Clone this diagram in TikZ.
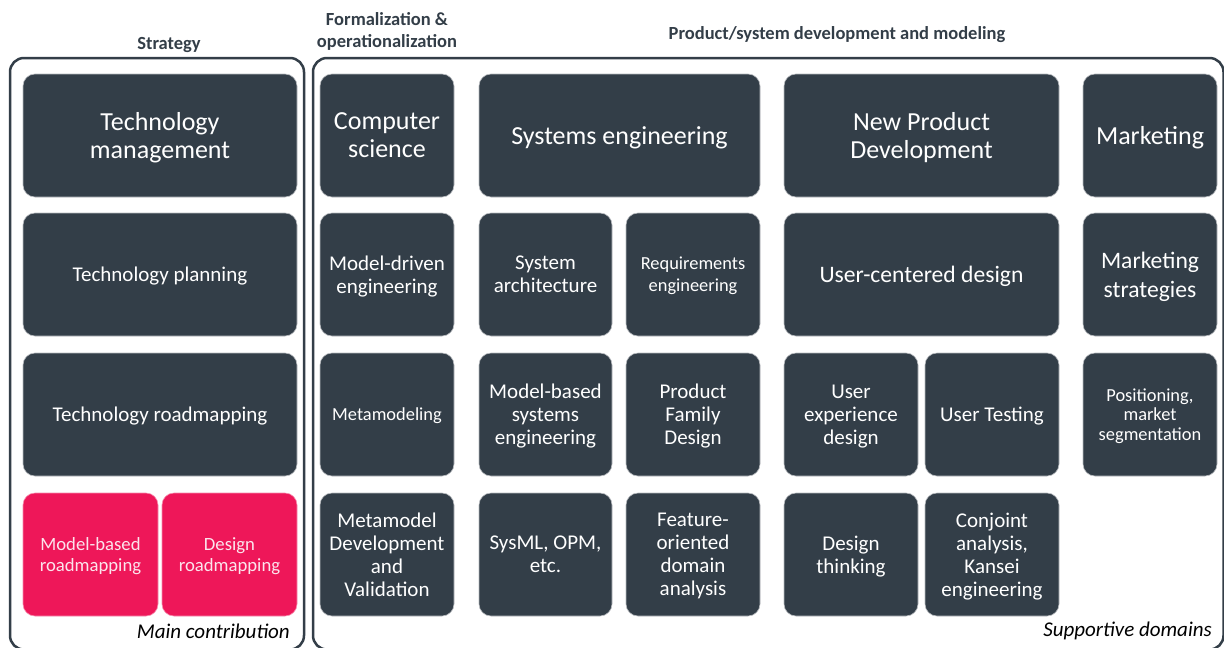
\documentclass[tikz,border=0pt]{standalone}
\usepackage{fontspec}
\setmainfont{Carlito}
\definecolor{slate}{HTML}{333E48}
\definecolor{rose}{HTML}{EE1759}
\definecolor{rosetext}{HTML}{FCE4EC}
\newcommand{\fbig}{\fontsize{26}{28}\selectfont}
\newcommand{\fucd}{\fontsize{23.6}{29}\selectfont}
\newcommand{\fmed}{\fontsize{21}{23}\selectfont}
\newcommand{\fsml}{\fontsize{18.4}{19.5}\selectfont}
\newcommand{\fsmlb}{\fontsize{18.4}{22}\selectfont}
\newcommand{\fpink}{\fontsize{18.7}{20.5}\selectfont}
% box macro: style, name, x1, y1, x2, y2, font, text
\newcommand{\bx}[8]{\node[#1, minimum width={(#5-#3)*1pt}, minimum height={(#6-#4)*1pt}, font=#7] (#2) at ({(#3+#5)/2},{(#4+#6)/2}) {#8};}
\begin{document}
\begin{tikzpicture}[x=1pt,y=-1pt,
  dbox/.style={fill=slate, draw=slate!35, line width=0.6pt, rounded corners=12pt, text=white, align=center, inner sep=0pt, text depth=0pt, execute at begin node={\vspace*{2.5pt}}},
  pbox/.style={dbox, fill=rose, draw=rose!50, text=rosetext},
  frame/.style={draw=slate, line width=2.5pt, rounded corners=14pt},
  head/.style={text=slate, font=\fontsize{18.5}{22}\selectfont\bfseries, align=center, inner sep=0pt},
  note/.style={text=black, font=\fontsize{21}{23}\selectfont\itshape, inner sep=0pt, anchor=east}]
\useasboundingbox (0,0) rectangle (1224,648);
\fill[white] (0,0) rectangle (1224,648);
% frames
\draw[frame] (10,58) rectangle (304,649.5);
\draw[frame] (313,58) rectangle (1223.5,649.5);
% headers
\node[head] (hstrat) at (169,45) {Strategy};
\node[head] (hform) at (387,31) {Formalization \&\\operationalization};
\node[head] (hprod) at (837,35) {Product/system development and modeling};
% row 1
\bx{dbox}{tm}{23}{74}{297}{197}{\fbig}{Technology\\management}
\bx{dbox}{cs}{320}{74}{454}{197}{\fbig}{Computer\\science}
\bx{dbox}{se}{479}{74}{760}{197}{\fbig}{Systems engineering}
\bx{dbox}{npd}{784}{74}{1059}{197}{\fbig}{New Product\\Development}
\bx{dbox}{mk}{1083}{74}{1217}{197}{\fbig}{Marketing}
% row 2
\bx{dbox}{tp}{23}{213}{297}{336}{\fmed}{Technology planning}
\bx{dbox}{mde}{320}{213}{454}{336}{\fmed}{Model-driven\\engineering}
\bx{dbox}{sa}{479}{213}{612}{336}{\fmed}{System\\architecture}
\bx{dbox}{re}{626}{213}{760}{336}{\fsmlb}{Requirements\\engineering}
\bx{dbox}{ucd}{784}{213}{1059}{336}{\fucd}{User-centered design}
\bx{dbox}{ms}{1083}{213}{1217}{336}{\fucd}{Marketing\\strategies}
% row 3
\bx{dbox}{tr}{23}{353}{297}{476}{\fmed}{Technology roadmapping}
\bx{dbox}{mm}{320}{353}{454}{476}{\fsml}{Metamodeling}
\bx{dbox}{mbse}{479}{353}{612}{476}{\fmed}{Model-based\\systems\\engineering}
\bx{dbox}{pfd}{626}{353}{760}{476}{\fmed}{Product\\Family\\Design}
\bx{dbox}{uxd}{784}{353}{918}{476}{\fmed}{User\\experience\\design}
\bx{dbox}{ut}{925}{353}{1059}{476}{\fmed}{User Testing}
\bx{dbox}{pos}{1083}{353}{1217}{476}{\fsml}{Positioning,\\market\\segmentation}
% row 4
\bx{pbox}{mbr}{23}{493}{158}{616}{\fpink}{Model-based\\roadmapping}
\bx{pbox}{dr}{162}{493}{297}{616}{\fpink}{Design\\roadmapping}
\bx{dbox}{mdv}{320}{493}{454}{616}{\fmed}{Metamodel\\Development\\and\\Validation}
\bx{dbox}{sysml}{479}{493}{612}{616}{\fmed}{SysML, OPM,\\etc.}
\bx{dbox}{foda}{626}{493}{760}{616}{\fmed}{Feature-\\oriented\\domain\\analysis}
\bx{dbox}{dt}{784}{493}{918}{616}{\fmed}{Design\\thinking}
\bx{dbox}{ca}{925}{493}{1059}{616}{\fmed}{Conjoint\\analysis,\\Kansei\\engineering}
% notes
\node[note] (nmain) at (290,631) {Main contribution};
\node[note] (nsup) at (1212,631) {Supportive domains};
\end{tikzpicture}
\end{document}
